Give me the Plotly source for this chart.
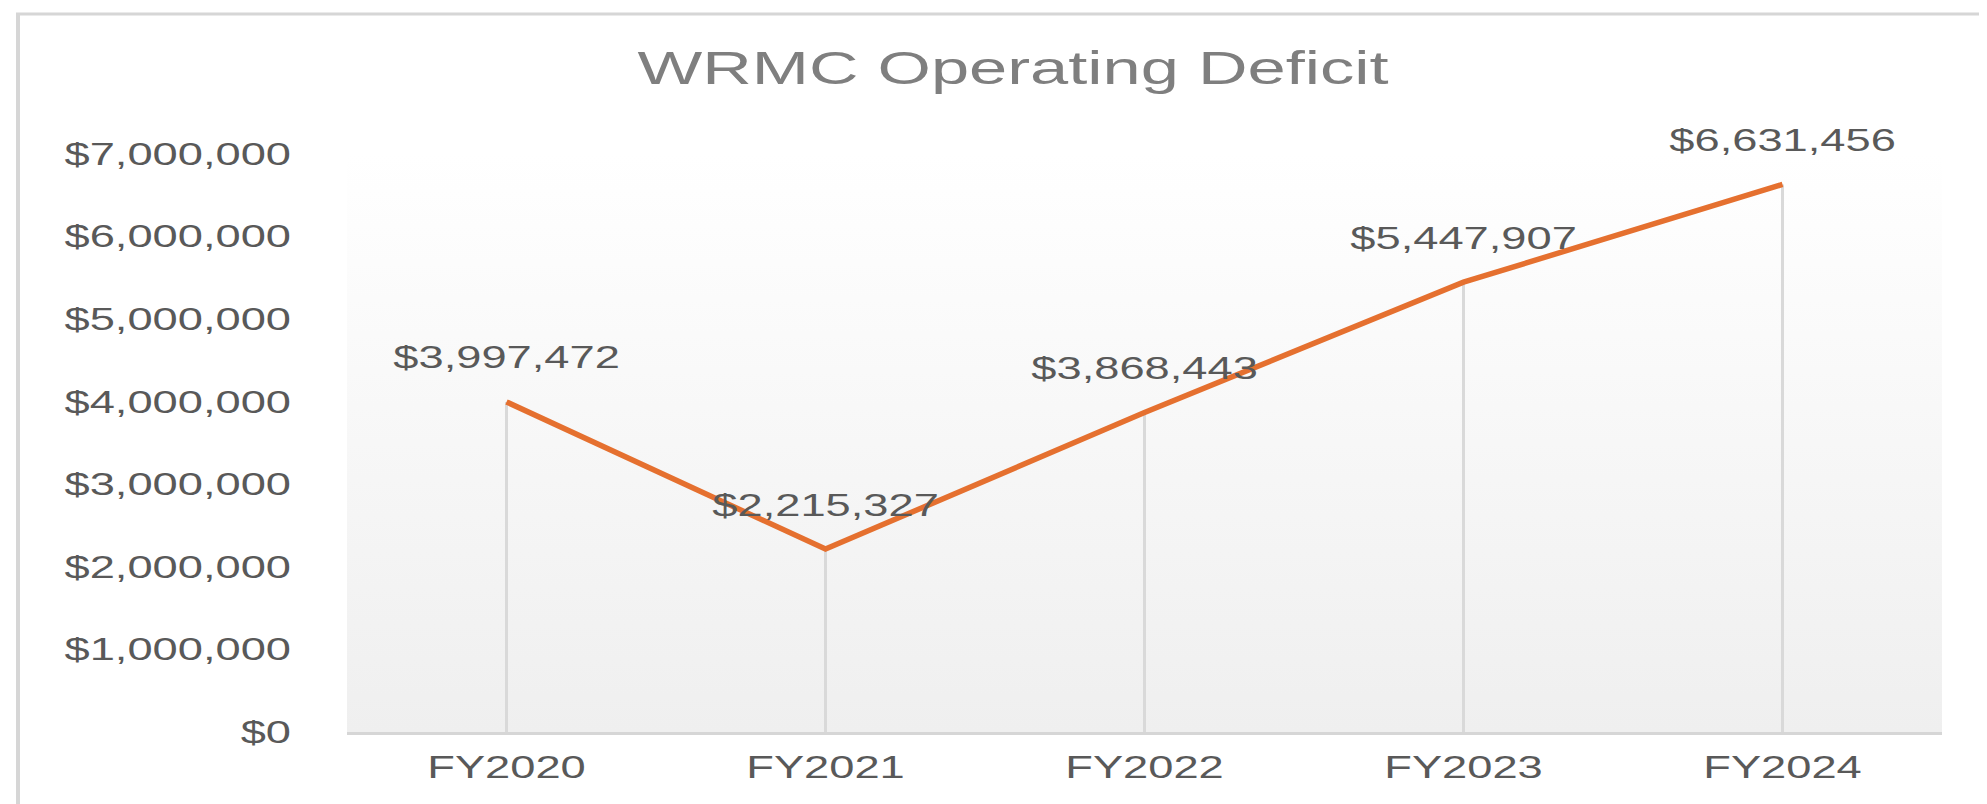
import plotly.graph_objects as go

# ---- data ----
categories = ["FY2020", "FY2021", "FY2022", "FY2023", "FY2024"]
deficit = [3997472, 2215327, 3868443, 5447907, 6631456]
y_ticks = [0, 1000000, 2000000, 3000000, 4000000, 5000000, 6000000, 7000000]
title_text = "WRMC Operating Deficit"

# ---- styling ----
W, H = 1987, 804
ML, MR, MT, MB = 339, 53, 146, 80
LINE_COLOR = "#E5702F"
DROP_COLOR = "#d9d9d9"
TEXT_COLOR = "#595959"
FONT = "Liberation Sans, Arial, sans-serif"
FS = 31

fig = go.Figure()

# gradient plot-area background on base axes
fig.add_trace(go.Scatter(
    x=[0, 1, 1, 0, 0], y=[0, 0, 1, 1, 0], xaxis="x", yaxis="y",
    mode="lines", fill="toself", line=dict(width=0),
    fillgradient=dict(type="vertical", colorscale=[[0, "#efefef"], [1, "#ffffff"]]),
    hoverinfo="skip", showlegend=False,
))

# drop lines from each point to the axis
dx, dy = [], []
for c, v in zip(categories, deficit):
    dx += [c, c, None]
    dy += [0, v, None]
fig.add_trace(go.Scatter(
    x=dx, y=dy, xaxis="x2", yaxis="y2", mode="lines",
    line=dict(color=DROP_COLOR, width=3), hoverinfo="skip", showlegend=False,
))

# main line
fig.add_trace(go.Scatter(
    x=categories, y=deficit, xaxis="x2", yaxis="y2", mode="lines",
    line=dict(color=LINE_COLOR, width=5.5), showlegend=False,
))

# data labels
for c, v in zip(categories, deficit):
    fig.add_annotation(
        x=c, y=v, xref="x2", yref="y2", text=f"${v:,}", showarrow=False,
        yshift=44, font=dict(family=FONT, size=FS, color=TEXT_COLOR),
    )

# chart frame
px2x = lambda p: (p - ML) / (W - ML - MR)
py2y = lambda p: (H - MB - p) / (H - MT - MB)
frame = dict(type="line", xref="paper", yref="paper", layer="above")
fig.add_shape(**frame, x0=px2x(10), x1=px2x(10), y0=py2y(830), y1=py2y(6),
              line=dict(color="#d6d6d6", width=4))
fig.add_shape(**frame, x0=px2x(8), x1=px2x(1987), y0=py2y(6), y1=py2y(6),
              line=dict(color="#d6d6d6", width=3))
fig.add_shape(**frame, x0=px2x(1982), x1=px2x(1982), y0=py2y(830), y1=py2y(6),
              line=dict(color="#eeeeee", width=2))

fig.update_layout(
    width=W, height=H,
    margin=dict(l=ML, r=MR, t=MT, b=MB, autoexpand=False),
    paper_bgcolor="white", plot_bgcolor="white",
    showlegend=False,
    title=dict(text=title_text, xref="container", yref="container",
               x=1005 / W, y=1 - 60 / H, xanchor="center", yanchor="middle",
               font=dict(family=FONT, size=47, color="#7f7f7f")),
    xaxis=dict(range=[0, 1], visible=False, fixedrange=True),
    yaxis=dict(range=[0, 1], visible=False, fixedrange=True),
    xaxis2=dict(overlaying="x", anchor="y2", type="category",
                categoryorder="array", categoryarray=categories,
                range=[-0.5, len(categories) - 0.5],
                showgrid=False, zeroline=False,
                showline=True, linecolor="#d6d6d6", linewidth=3,
                ticks="", ticklabelstandoff=6,
                tickfont=dict(family=FONT, size=FS, color=TEXT_COLOR)),
    yaxis2=dict(overlaying="y", anchor="x2", range=[0, 7000000],
                tickvals=y_ticks, tickformat="$,.0f",
                showgrid=False, zeroline=False, showline=False,
                ticks="", ticklabelstandoff=55,
                tickfont=dict(family=FONT, size=FS, color=TEXT_COLOR)),
)

# the reference renders its text horizontally stretched; widen glyphs to match
post = """
var gd = document.getElementById('{plot_id}');
function widen(){
  gd.querySelectorAll('text').forEach(function(t){
    if (t.getAttribute('data-wide')) return;
    var w = t.getComputedTextLength();
    if (w > 0) {
      t.setAttribute('textLength', (w * 1.46).toFixed(1));
      t.setAttribute('lengthAdjust', 'spacingAndGlyphs');
      t.setAttribute('data-wide', '1');
    }
  });
}
widen();
gd.on && gd.on('plotly_afterplot', widen);
"""

fig.write_html("out.html", post_script=post)
